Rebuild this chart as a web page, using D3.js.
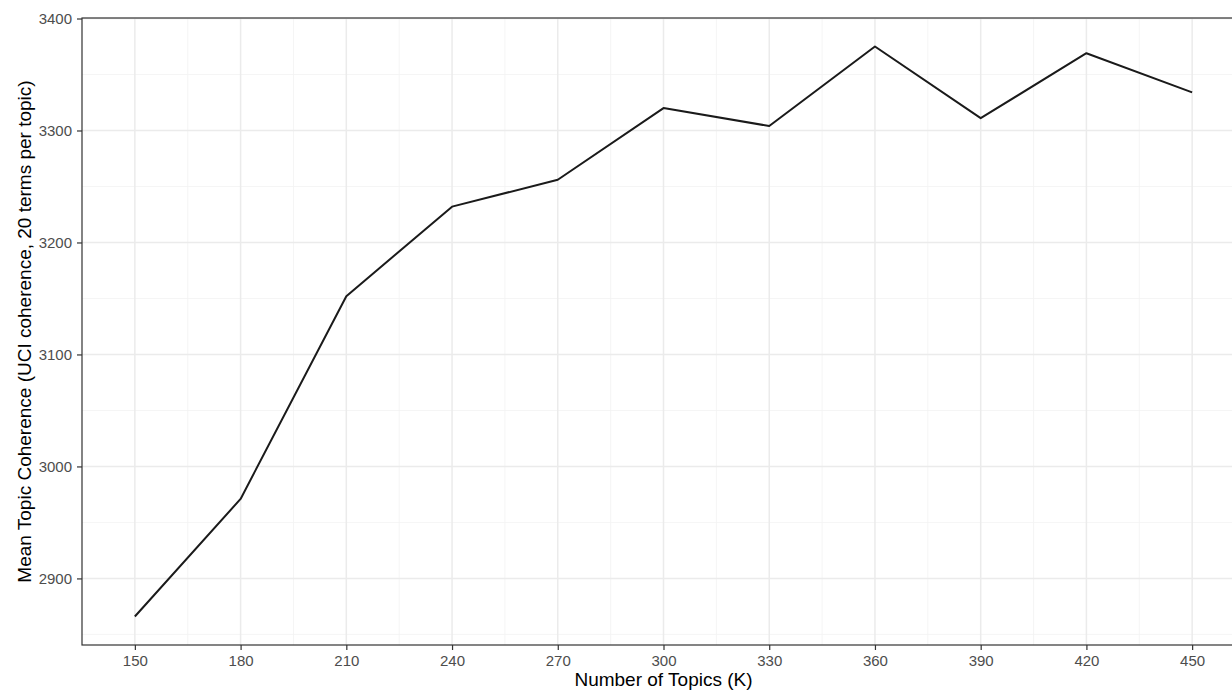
<!DOCTYPE html>
<html>
<head>
<meta charset="utf-8">
<script src="https://cdn.jsdelivr.net/npm/d3@7"></script>
<style>
  html, body { margin: 0; padding: 0; background: #fff; overflow: hidden; }
  svg { display: block; }
  text { font-family: "Liberation Sans", Arial, Helvetica, sans-serif; }
</style>
</head>
<body>
<svg id="chart" width="1232" height="691"></svg>
<script>
// data
var topics = [150, 180, 210, 240, 270, 300, 330, 360, 390, 420, 450];
var coherence = [2866, 2971, 3152, 3232, 3256, 3320, 3304, 3375, 3311, 3369, 3334];
var xTicks = [150, 180, 210, 240, 270, 300, 330, 360, 390, 420, 450];
var yTicks = [2900, 3000, 3100, 3200, 3300, 3400];
var xLabel = "Number of Topics (K)";
var yLabel = "Mean Topic Coherence (UCI coherence, 20 terms per topic)";

var svg = d3.select("#chart");

// panel runs past the right edge of the window, as in the reference
var panelLeft = 82, panelTop = 18, panelRight = 1245, panelBottom = 645;

// ggplot style 5% expansion
var xr = d3.extent(topics), yr = d3.extent(coherence);
var xPad = (xr[1] - xr[0]) * 0.05, yPad = (yr[1] - yr[0]) * 0.05;

var x = d3.scaleLinear().domain([xr[0] - xPad, xr[1] + xPad]).range([panelLeft, panelRight]);
var y = d3.scaleLinear().domain([yr[0] - yPad, yr[1] + yPad]).range([panelBottom, panelTop]);

// minor gridlines sit halfway between major ones
var xMinor = [];
for (var i = 0; i < xTicks.length - 1; i++) xMinor.push((xTicks[i] + xTicks[i + 1]) / 2);
xMinor.unshift(xTicks[0] - 15);
var yMinor = [];
for (var j = 0; j < yTicks.length - 1; j++) yMinor.push((yTicks[j] + yTicks[j + 1]) / 2);
yMinor.unshift(yTicks[0] - 50);

var grid = svg.append("g");
grid.selectAll(".xminor").data(xMinor.filter(function (d) { return x(d) > panelLeft; }))
    .enter().append("line")
    .attr("x1", function (d) { return x(d); }).attr("x2", function (d) { return x(d); })
    .attr("y1", panelTop).attr("y2", panelBottom)
    .attr("stroke", "#f2f2f2").attr("stroke-width", 0.8);
grid.selectAll(".yminor").data(yMinor.filter(function (d) { return y(d) < panelBottom; }))
    .enter().append("line")
    .attr("x1", panelLeft).attr("x2", panelRight)
    .attr("y1", function (d) { return y(d); }).attr("y2", function (d) { return y(d); })
    .attr("stroke", "#f2f2f2").attr("stroke-width", 0.8);
grid.selectAll(".xmajor").data(xTicks)
    .enter().append("line")
    .attr("x1", function (d) { return x(d); }).attr("x2", function (d) { return x(d); })
    .attr("y1", panelTop).attr("y2", panelBottom)
    .attr("stroke", "#ebebeb").attr("stroke-width", 1.5);
grid.selectAll(".ymajor").data(yTicks)
    .enter().append("line")
    .attr("x1", panelLeft).attr("x2", panelRight)
    .attr("y1", function (d) { return y(d); }).attr("y2", function (d) { return y(d); })
    .attr("stroke", "#ebebeb").attr("stroke-width", 1.5);

// the line
var line = d3.line()
    .x(function (d, k) { return x(topics[k]); })
    .y(function (d) { return y(d); });

svg.append("path")
    .datum(coherence)
    .attr("d", line)
    .attr("fill", "none")
    .attr("stroke", "#1a1a1a")
    .attr("stroke-width", 2)
    .attr("stroke-linejoin", "round");

// panel border
svg.append("rect")
    .attr("x", panelLeft).attr("y", panelTop)
    .attr("width", panelRight - panelLeft).attr("height", panelBottom - panelTop)
    .attr("fill", "none").attr("stroke", "#333333").attr("stroke-width", 1.2);

// axes
var xAxis = d3.axisBottom(x).tickValues(xTicks).tickSize(5).tickPadding(5).tickFormat(d3.format("d"));
var yAxis = d3.axisLeft(y).tickValues(yTicks).tickSize(5).tickPadding(5).tickFormat(d3.format("d"));

var gx = svg.append("g").attr("transform", "translate(0," + panelBottom + ")").call(xAxis);
var gy = svg.append("g").attr("transform", "translate(" + panelLeft + ",0)").call(yAxis);

[gx, gy].forEach(function (g) {
    g.select(".domain").remove();
    g.selectAll(".tick line").attr("stroke", "#333333").attr("stroke-width", 1.2);
    g.selectAll(".tick text").attr("fill", "#4d4d4d").style("font-size", "15px");
});

svg.append("text")
    .attr("x", (panelLeft + panelRight) / 2)
    .attr("y", 686)
    .attr("text-anchor", "middle")
    .attr("fill", "#000")
    .style("font-size", "19px")
    .text(xLabel);

svg.append("text")
    .attr("transform", "translate(31," + (panelTop + panelBottom) / 2 + ") rotate(-90)")
    .attr("text-anchor", "middle")
    .attr("fill", "#000")
    .style("font-size", "19px")
    .text(yLabel);
</script>
</body>
</html>
